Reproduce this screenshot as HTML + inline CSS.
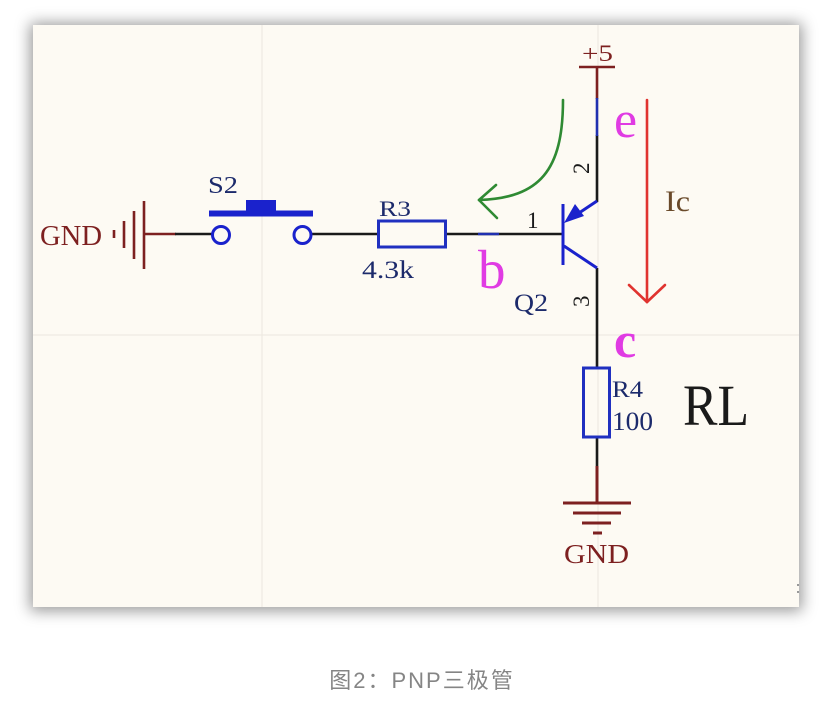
<!DOCTYPE html>
<html>
<head>
<meta charset="utf-8">
<style>
  html, body { margin:0; padding:0; background:#ffffff; }
  body { width:828px; height:702px; position:relative; overflow:hidden; }
  .frame {
    position:absolute; left:33px; top:25px; width:766px; height:582px;
    background:#fdfaf3;
    box-shadow: 0 1px 14px 3px rgba(0,0,0,0.40);
  }
  svg.sch { position:absolute; left:0; top:0; }
  .cap {
    position:absolute; left:0; width:828px; top:663px; text-align:center;
    font-family:"Liberation Sans","Noto Sans CJK SC",sans-serif;
    font-size:22px; color:#858585; letter-spacing:2px; padding-left:8px;
  }
</style>
</head>
<body>
<div class="frame"></div>
<svg class="sch" width="828" height="702" viewBox="0 0 828 702" xmlns="http://www.w3.org/2000/svg">
  <!-- faint grid -->
  <g stroke="#ebe7df" stroke-width="1">
    <line x1="262" y1="25" x2="262" y2="607"/>
    <line x1="33" y1="335" x2="799" y2="335"/>
    <line x1="598" y1="25" x2="598" y2="607"/>
  </g>

  <!-- Left GND symbol -->
  <g stroke="#7d2020" stroke-width="2.6" fill="none">
    <line x1="114" y1="230" x2="114" y2="238"/>
    <line x1="124" y1="221" x2="124" y2="248"/>
    <line x1="134" y1="211" x2="134" y2="259"/>
    <line x1="144" y1="201" x2="144" y2="269"/>
    <line x1="144" y1="234" x2="176" y2="234"/>
  </g>
  <text x="40" y="245" font-family="Liberation Serif, serif" font-size="29" fill="#7d2020" textLength="62" lengthAdjust="spacingAndGlyphs">GND</text>

  <!-- wires -->
  <g stroke="#1a1a1a" stroke-width="2.6" fill="none">
    <line x1="175" y1="234" x2="212" y2="234"/>
    <line x1="312" y1="234" x2="378" y2="234"/>
    <line x1="446" y1="234" x2="563" y2="234"/>
    <line x1="597" y1="135" x2="597" y2="202"/>
    <line x1="597" y1="268" x2="597" y2="368"/>
    <line x1="597" y1="437" x2="597" y2="467"/>
  </g>
  <line x1="478" y1="234" x2="499" y2="234" stroke="#2030b0" stroke-width="2.6"/>

  <!-- switch S2 -->
  <g fill="none" stroke="#1a22cc" stroke-width="3">
    <circle cx="221" cy="235" r="8.5"/>
    <circle cx="302.5" cy="235" r="8.5"/>
  </g>
  <rect x="209" y="210.5" width="104" height="6" fill="#1a22cc"/>
  <rect x="246" y="200" width="30" height="12" fill="#1a22cc"/>
  <text x="208" y="193" font-family="Liberation Serif, serif" font-size="24" fill="#1c2a6b" textLength="30" lengthAdjust="spacingAndGlyphs">S2</text>

  <!-- R3 -->
  <rect x="378.5" y="221" width="67" height="26" fill="none" stroke="#2030c0" stroke-width="3"/>
  <text x="379" y="216" font-family="Liberation Serif, serif" font-size="22" fill="#1c2a6b" textLength="32" lengthAdjust="spacingAndGlyphs">R3</text>
  <text x="362" y="278" font-family="Liberation Serif, serif" font-size="25" fill="#1c2a6b" textLength="52" lengthAdjust="spacingAndGlyphs">4.3k</text>

  <!-- +5 -->
  <g stroke="#7d2020" stroke-width="2.6">
    <line x1="579" y1="67" x2="615" y2="67"/>
    <line x1="597" y1="67" x2="597" y2="99"/>
  </g>
  <line x1="597" y1="98" x2="597" y2="136" stroke="#2030b0" stroke-width="2.6"/>
  <text x="582" y="61" font-family="Liberation Serif, serif" font-size="23" fill="#7d2020" textLength="31" lengthAdjust="spacingAndGlyphs">+5</text>

  <!-- transistor Q2 -->
  <g stroke="#1a22cc" stroke-width="3" fill="none">
    <line x1="563" y1="204" x2="563" y2="265"/>
    <line x1="597" y1="201" x2="570" y2="219"/>
    <line x1="564" y1="246" x2="597" y2="268"/>
  </g>
  <polygon points="564,223 575,204 584,216" fill="#1a22cc"/>
  <text x="527" y="228" font-family="Liberation Serif, serif" font-size="23" fill="#1a1a1a">1</text>
  <text transform="translate(589,174) rotate(-90)" font-family="Liberation Serif, serif" font-size="23" fill="#1a1a1a">2</text>
  <text transform="translate(589,307) rotate(-90)" font-family="Liberation Serif, serif" font-size="23" fill="#1a1a1a">3</text>
  <text x="514" y="311" font-family="Liberation Serif, serif" font-size="25" fill="#1c2a6b" textLength="34" lengthAdjust="spacingAndGlyphs">Q2</text>

  <!-- magenta labels -->
  <text x="614" y="137" font-family="Liberation Serif, serif" font-size="52" fill="#e03be3">e</text>
  <text x="478" y="288" font-family="Liberation Serif, serif" font-size="55" fill="#e03be3">b</text>
  <text x="614" y="357" font-family="Liberation Serif, serif" font-size="50" font-weight="bold" fill="#e03be3">c</text>

  <!-- green arrow -->
  <g stroke="#2f8a33" stroke-width="2.6" fill="none" stroke-linecap="round">
    <path d="M563,100 C563,170 540,198 479,200"/>
    <line x1="479" y1="200" x2="496" y2="185"/>
    <line x1="479" y1="200" x2="497" y2="218"/>
  </g>

  <!-- red arrow Ic -->
  <g stroke="#e0332f" stroke-width="2.6" fill="none" stroke-linecap="round">
    <line x1="647" y1="100" x2="647" y2="302"/>
    <line x1="647" y1="302" x2="629" y2="285"/>
    <line x1="647" y1="302" x2="665" y2="285"/>
  </g>
  <text x="665" y="211" font-family="Liberation Serif, serif" font-size="30" fill="#6a4a2a" textLength="25" lengthAdjust="spacingAndGlyphs">Ic</text>

  <!-- R4 -->
  <rect x="583.5" y="368" width="26" height="69" fill="none" stroke="#2030c0" stroke-width="3"/>
  <text x="612" y="397" font-family="Liberation Serif, serif" font-size="23" fill="#1c2a6b" textLength="31" lengthAdjust="spacingAndGlyphs">R4</text>
  <text x="612" y="430" font-family="Liberation Serif, serif" font-size="26" fill="#1c2a6b" textLength="41" lengthAdjust="spacingAndGlyphs">100</text>
  <text x="683" y="425" font-family="Liberation Serif, serif" font-size="58" fill="#1a1a1a" textLength="66" lengthAdjust="spacingAndGlyphs">RL</text>

  <!-- bottom GND -->
  <g stroke="#7d2020" stroke-width="3">
    <line x1="597" y1="466" x2="597" y2="503"/>
    <line x1="563" y1="503" x2="631" y2="503"/>
    <line x1="573" y1="513" x2="621" y2="513"/>
    <line x1="582" y1="523" x2="611" y2="523"/>
    <line x1="593" y1="533" x2="602" y2="533"/>
  </g>
  <text x="564" y="563" font-family="Liberation Serif, serif" font-size="27" fill="#7d2020" textLength="65" lengthAdjust="spacingAndGlyphs">GND</text>

  <!-- tiny edge mark -->
  <g fill="#999">
    <rect x="797" y="584" width="2" height="2"/>
    <rect x="797" y="591" width="2" height="2"/>
  </g>
</svg>
<div class="cap">图2：PNP三极管</div>
</body>
</html>
